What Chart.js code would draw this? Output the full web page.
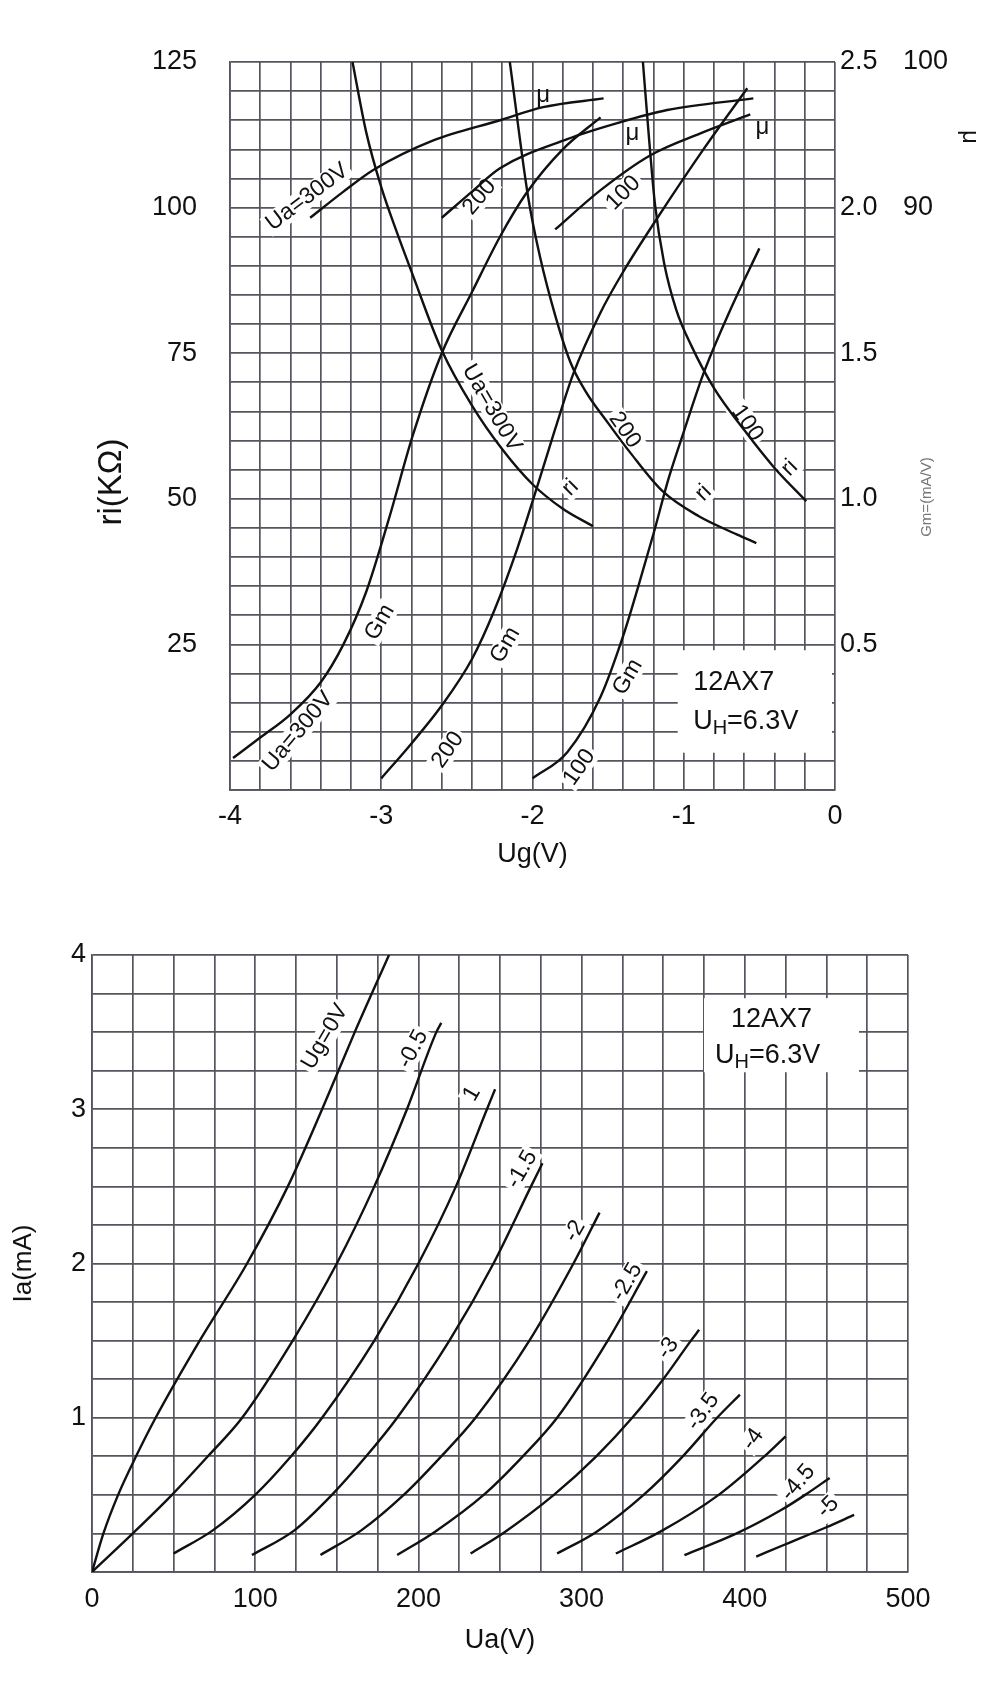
<!DOCTYPE html>
<html>
<head>
<meta charset="utf-8">
<script src="https://cdn.jsdelivr.net/npm/chart.js@4.4.1/dist/chart.umd.min.js"></script>
<style>
  html, body { margin: 0; padding: 0; background: #fff; }
  #top { position: absolute; left: 0; top: 0; }
  #bottom { position: absolute; left: 0; top: 880px; }
</style>
</head>
<body>
<canvas id="top" width="1000" height="875"></canvas>
<canvas id="bottom" width="1000" height="805"></canvas>
<script>
// 12AX7 data sheet

// --- upper chart: ri / Gm / mu against Ug ---
const ugLabels = ['-4', '-3', '-2', '-1', '0'];
const riLabels = ['25', '50', '75', '100', '125'];
const gmLabels = ['0.5', '1.0', '1.5', '2.0', '2.5'];
const muLabels = ['90', '100'];

// internal resistance ri (kOhm)
const ri300 = [[-3.19,125],[-3.1,113],[-3.0,103.5],[-2.9,96],[-2.8,89],[-2.6,75.5],[-2.4,66],[-2.2,58.5],[-2.0,52.5],[-1.8,48.3],[-1.6,45.3]];
const ri200 = [[-2.15,125],[-2.03,102],[-1.95,91.5],[-1.85,81.5],[-1.75,73.5],[-1.65,68.5],[-1.5,63],[-1.35,57.8],[-1.14,51.3],[-0.9,47],[-0.65,43.9],[-0.52,42.4]];
const ri100 = [[-1.27,125],[-1.23,112],[-1.19,100.5],[-1.13,90.5],[-1.05,82.5],[-0.95,76.3],[-0.8,69],[-0.6,61.8],[-0.4,55.3],[-0.19,49.6]];

// transconductance Gm (mA/V)
const gm300 = [[-3.98,0.11],[-3.8,0.18],[-3.6,0.26],[-3.4,0.37],[-3.25,0.5],[-3.1,0.68],[-2.95,0.93],[-2.79,1.22],[-2.6,1.5],[-2.4,1.71],[-2.215,1.9],[-2.04,2.05],[-1.8,2.2],[-1.55,2.31]];
const gm200 = [[-3.0,0.04],[-2.8,0.16],[-2.6,0.29],[-2.4,0.45],[-2.25,0.62],[-2.1,0.83],[-1.97,1.04],[-1.85,1.24],[-1.73,1.43],[-1.55,1.64],[-1.4,1.78],[-1.18,1.96],[-0.87,2.2],[-0.58,2.41]];
const gm100 = [[-2.0,0.04],[-1.77,0.13],[-1.55,0.32],[-1.4,0.53],[-1.3,0.7],[-1.2,0.88],[-1.1,1.07],[-1.0,1.23],[-0.87,1.43],[-0.7,1.64],[-0.5,1.86]];

// amplification factor mu
const mu300 = [[-3.47,89.3],[-3.25,91.1],[-3.05,92.6],[-2.66,94.6],[-2.215,96.0],[-1.93,96.9],[-1.53,97.5]];
const mu200 = [[-2.6,89.3],[-2.4,91.1],[-2.215,92.7],[-1.77,94.7],[-1.44,95.8],[-1.11,96.7],[-0.54,97.5]];
const mu100 = [[-1.85,88.5],[-1.55,91.2],[-1.22,93.6],[-0.89,95.1],[-0.56,96.4]];

// --- lower chart: Ia against Ua for each grid voltage ---
const uaLabels = ['0', '100', '200', '300', '400', '500'];
const iaLabels = ['1', '2', '3', '4'];

const ug0   = [[0,0],[7,0.25],[16,0.5],[27,0.75],[39,1.0],[66,1.5],[95,2.0],[120,2.5],[141,3.0],[161,3.5],[182,4.0]];
const ug0_5 = [[0,0],[25,0.25],[49,0.5],[71,0.75],[92,1.0],[123,1.5],[150,2.0],[173,2.5],[193,3.0],[211,3.5],[214,3.56]];
const ug1   = [[50,0.12],[74,0.27],[100,0.5],[122,0.75],[141,1.0],[173,1.5],[200,2.0],[223,2.5],[242,3.0],[247,3.13]];
const ug1_5 = [[98,0.11],[124,0.27],[147,0.5],[168,0.75],[187,1.0],[219,1.5],[246,2.0],[269,2.5],[276,2.65]];
const ug2   = [[140,0.11],[165,0.27],[191,0.5],[214,0.75],[235,1.0],[268,1.5],[295,2.0],[311,2.33]];
const ug2_5 = [[187,0.11],[210,0.26],[240,0.5],[264,0.75],[285,1.0],[316,1.5],[340,1.95]];
const ug3   = [[232,0.12],[253,0.26],[283,0.5],[309,0.75],[331,1.0],[350,1.25],[367,1.5],[372,1.57]];
const ug3_5 = [[285,0.12],[309,0.26],[338,0.5],[362,0.75],[383,1.0],[397,1.15]];
const ug4   = [[321,0.12],[348,0.26],[384,0.5],[412,0.75],[425,0.88]];
const ug4_5 = [[363,0.11],[395,0.25],[422,0.4],[437,0.5],[452,0.61]];
const ug5   = [[407,0.1],[425,0.18],[450,0.29],[467,0.37]];

const FONT = '"Liberation Sans", Arial, Helvetica, sans-serif';
const GRID = '#55555e';
const INK = '#111';

Chart.defaults.font.family = FONT;
Chart.defaults.color = INK;

// only print the ticks that have a label, the rest just give grid lines
function pick(labels) {
  return v => labels.find(s => Math.abs(parseFloat(s) - v) < 1e-6) || '';
}

function curve(pts, axis) {
  return {
    data: pts.map(p => ({ x: p[0], y: p[1] })),
    yAxisID: axis || 'y',
    showLine: true,
    borderColor: INK,
    borderWidth: 2.4,
    pointRadius: 0,
    cubicInterpolationMode: 'monotone',
    fill: false
  };
}

function drawNote(ctx, n, x, y) {
  const size = n.size || 23;
  ctx.save();
  ctx.translate(x, y);
  ctx.rotate((n.rot || 0) * Math.PI / 180);
  ctx.fillStyle = n.color || INK;
  ctx.textBaseline = 'middle';
  if (!n.sub) {
    ctx.font = size + 'px ' + FONT;
    ctx.textAlign = 'center';
    ctx.fillText(n.text, 0, 0);
  } else {
    const big = size + 'px ' + FONT;
    const small = Math.round(size * 0.75) + 'px ' + FONT;
    ctx.font = big;
    const w1 = ctx.measureText(n.text).width;
    const w3 = ctx.measureText(n.tail).width;
    ctx.font = small;
    const w2 = ctx.measureText(n.sub).width;
    let cx = -(w1 + w2 + w3) / 2;
    ctx.textAlign = 'left';
    ctx.font = big; ctx.fillText(n.text, cx, 0); cx += w1;
    ctx.font = small; ctx.fillText(n.sub, cx, size * 0.25); cx += w2;
    ctx.font = big; ctx.fillText(n.tail, cx, 0);
  }
  ctx.restore();
}

// curve labels sit on a white patch that breaks the grid, like the printed sheet
function labelsPlugin(notes, boxes, titles) {
  return {
    id: 'sheetLabels',
    beforeDatasetsDraw(chart) {
      const ctx = chart.ctx, sx = chart.scales.x, sy = chart.scales.y;
      ctx.save();
      ctx.fillStyle = '#fff';
      boxes.forEach(b => {
        const l = sx.getPixelForValue(b.x0), r = sx.getPixelForValue(b.x1);
        const t = sy.getPixelForValue(b.y1), bt = sy.getPixelForValue(b.y0);
        ctx.fillRect(l, t, r - l, bt - t);
      });
      notes.forEach(n => {
        if (n.bg === false) return;
        const size = n.size || 23;
        ctx.font = size + 'px ' + FONT;
        const w = ctx.measureText(n.text).width;
        ctx.save();
        ctx.translate(sx.getPixelForValue(n.x), sy.getPixelForValue(n.y));
        ctx.rotate((n.rot || 0) * Math.PI / 180);
        ctx.fillRect(-w / 2 - 3, -size * 0.48, w + 6, size * 0.96);
        ctx.restore();
      });
      ctx.restore();
    },
    afterDatasetsDraw(chart) {
      const ctx = chart.ctx, sx = chart.scales.x, sy = chart.scales.y;
      notes.forEach(n => drawNote(ctx, n, sx.getPixelForValue(n.x), sy.getPixelForValue(n.y)));
      titles.forEach(t => drawNote(ctx, t, t.px, t.py));
    }
  };
}

function gridOpts() {
  return { color: GRID, lineWidth: 1.7, drawTicks: false };
}

// ---------- upper chart ----------
const topNotes = [
  { text: 'Ua=300V', x: -3.49, y: 101.8, rot: -37 },
  { text: '200', x: -2.35, y: 101.8, rot: -50 },
  { text: '100', x: -1.40, y: 102.5, rot: -45 },
  { text: 'μ', x: -1.93, y: 119.3, bg: false, size: 24 },
  { text: 'μ', x: -1.34, y: 112.8, bg: false, size: 24 },
  { text: 'μ', x: -0.48, y: 113.8, bg: false, size: 24 },
  { text: 'Ua=300V', x: -2.27, y: 65.6, rot: 60 },
  { text: '200', x: -1.39, y: 61.8, rot: 55 },
  { text: '100', x: -0.58, y: 63, rot: 55 },
  { text: 'ri', x: -1.75, y: 51.9, rot: -45 },
  { text: 'ri', x: -0.87, y: 51, rot: -45 },
  { text: 'ri', x: -0.30, y: 55.3, rot: -45 },
  { text: 'Gm', x: -3.01, y: 28.8, rot: -60 },
  { text: 'Gm', x: -2.18, y: 24.9, rot: -60 },
  { text: 'Gm', x: -1.37, y: 19.4, rot: -60 },
  { text: 'Ua=300V', x: -3.55, y: 10, rot: -50 },
  { text: '200', x: -2.56, y: 6.9, rot: -55 },
  { text: '100', x: -1.69, y: 3.9, rot: -55 },
  { text: '12AX7', x: -0.67, y: 18.4, bg: false, size: 27 },
  { text: 'U', sub: 'H', tail: '=6.3V', x: -0.59, y: 11.7, bg: false, size: 27 }
];
const topBoxes = [{ x0: -1.04, x1: -0.02, y0: 6.4, y1: 24 }];
const topTitles = [
  { text: 'ri(KΩ)', px: 112, py: 482, rot: -90, size: 33 },
  { text: 'μ', px: 970, py: 137, rot: 90, size: 24 },
  { text: 'Gm=(mA/V)', px: 927, py: 497, rot: -90, size: 15, color: '#777' }
];

new Chart(document.getElementById('top'), {
  type: 'scatter',
  data: {
    datasets: [
      curve(ri300), curve(ri200), curve(ri100),
      curve(gm300, 'gm'), curve(gm200, 'gm'), curve(gm100, 'gm'),
      curve(mu300, 'mu'), curve(mu200, 'mu'), curve(mu100, 'mu')
    ]
  },
  options: {
    responsive: false,
    animation: false,
    events: [],
    layout: { padding: { top: 62, left: 0, right: 0, bottom: 0 } },
    plugins: { legend: { display: false }, tooltip: { enabled: false } },
    scales: {
      x: {
        type: 'linear', min: -4, max: 0,
        afterFit: s => { s.height = 85; },
        ticks: { stepSize: 0.2, autoSkip: false, maxRotation: 0, padding: 10, font: { size: 27 }, callback: pick(ugLabels) },
        grid: gridOpts(),
        border: { color: GRID, width: 1.7 },
        title: { display: true, text: 'Ug(V)', font: { size: 27 }, padding: { top: 0, bottom: 4 } }
      },
      y: {
        position: 'left', min: 0, max: 125,
        afterFit: s => { s.width = 230; },
        ticks: { stepSize: 5, autoSkip: false, padding: 33, font: { size: 27 }, callback: pick(riLabels) },
        grid: gridOpts(),
        border: { color: GRID, width: 1.7 }
      },
      gm: {
        position: 'right', min: 0, max: 2.5,
        afterFit: s => { s.width = 60; },
        ticks: { stepSize: 0.5, autoSkip: false, padding: 5, font: { size: 27 }, callback: pick(gmLabels) },
        grid: { display: false, drawTicks: false },
        border: { display: false }
      },
      mu: {
        position: 'right', min: 50, max: 100,
        afterFit: s => { s.width = 105; },
        ticks: { stepSize: 10, autoSkip: false, padding: 8, font: { size: 27 }, callback: pick(muLabels) },
        grid: { display: false, drawTicks: false },
        border: { display: false }
      }
    }
  },
  plugins: [labelsPlugin(topNotes, topBoxes, topTitles)]
});

// ---------- lower chart ----------
const botNotes = [
  { text: 'Ug=0V', x: 142.8, y: 3.47, rot: -60 },
  { text: '-0.5', x: 196.7, y: 3.39, rot: -62 },
  { text: '1', x: 232.8, y: 3.10, rot: -60 },
  { text: '-1.5', x: 263.5, y: 2.61, rot: -60 },
  { text: '-2', x: 295.9, y: 2.21, rot: -60 },
  { text: '-2.5', x: 327.8, y: 1.88, rot: -60 },
  { text: '-3', x: 352.9, y: 1.45, rot: -55 },
  { text: '-3.5', x: 374.4, y: 1.04, rot: -55 },
  { text: '-4', x: 405, y: 0.86, rot: -55 },
  { text: '-4.5', x: 432.6, y: 0.58, rot: -50 },
  { text: '-5', x: 451, y: 0.42, rot: -45 },
  { text: '12AX7', x: 416.4, y: 3.58, bg: false, size: 27 },
  { text: 'U', sub: 'H', tail: '=6.3V', x: 414, y: 3.35, bg: false, size: 27 }
];
const botBoxes = [{ x0: 375, x1: 470, y0: 3.24, y1: 3.72 }];

new Chart(document.getElementById('bottom'), {
  type: 'scatter',
  data: {
    datasets: [ug0, ug0_5, ug1, ug1_5, ug2, ug2_5, ug3, ug3_5, ug4, ug4_5, ug5].map(c => curve(c))
  },
  options: {
    responsive: false,
    animation: false,
    events: [],
    layout: { padding: { top: 75, left: 0, right: 92, bottom: 0 } },
    plugins: { legend: { display: false }, tooltip: { enabled: false } },
    scales: {
      x: {
        type: 'linear', min: 0, max: 500,
        afterFit: s => { s.height = 113; },
        ticks: { stepSize: 25, autoSkip: false, maxRotation: 0, padding: 11, font: { size: 27 }, callback: pick(uaLabels) },
        grid: gridOpts(),
        border: { color: GRID, width: 1.7 },
        title: { display: true, text: 'Ua(V)', font: { size: 27 }, padding: { top: 0, bottom: 28 } }
      },
      y: {
        min: 0, max: 4,
        afterFit: s => { s.width = 92; },
        ticks: { stepSize: 0.25, autoSkip: false, padding: 6, font: { size: 27 }, callback: pick(iaLabels) },
        grid: gridOpts(),
        border: { color: GRID, width: 1.7 },
        title: { display: true, text: 'Ia(mA)', font: { size: 26 }, padding: { top: 8, bottom: 0 } }
      }
    }
  },
  plugins: [labelsPlugin(botNotes, botBoxes, [])]
});
</script>
</body>
</html>
